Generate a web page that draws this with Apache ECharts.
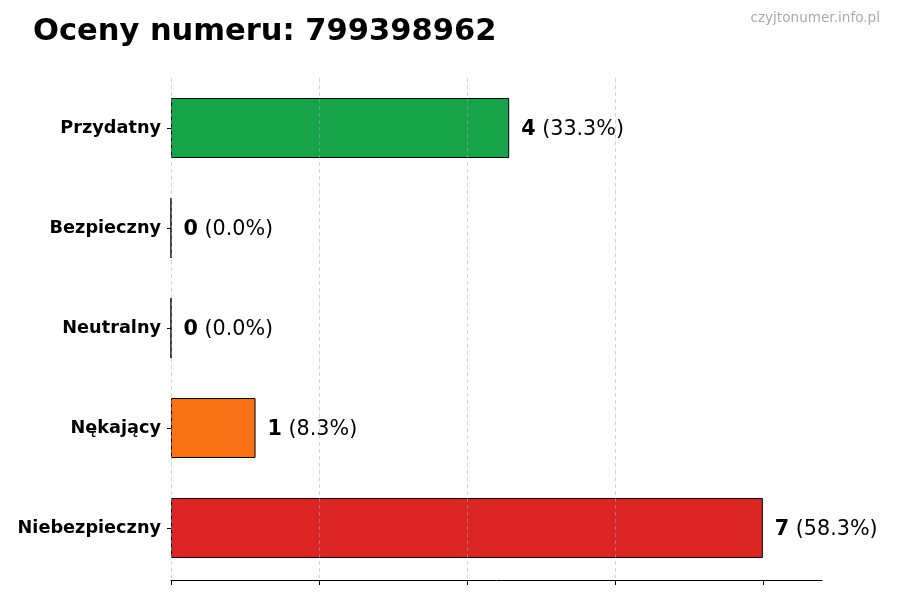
<!DOCTYPE html>
<html>
<head>
    <meta charset="UTF-8">
    <title>Oceny numeru</title>
    <script src="https://cdn.jsdelivr.net/npm/echarts@6/dist/echarts.min.js"></script>
    <style>
        html, body { margin: 0; padding: 0; background: #fff; }
        #chart { width: 900px; height: 600px; }
    </style>
</head>
<body>
<div id="chart"></div>
<script>
    // dane wykresu (od góry do dołu)
    var categories = ['Przydatny', 'Bezpieczny', 'Neutralny', 'Nękający', 'Niebezpieczny'];
    var counts = [4, 0, 0, 1, 7];
    var colors = ['#16a34a', '#16a34a', '#9ca3af', '#f97316', '#dc2626'];
    var xTicks = [0, 1.75, 3.5, 5.25, 7];
    var titleText = 'Oceny numeru: 799398962';
    var siteText = 'czyjtonumer.info.pl';

    var total = counts.reduce(function (a, b) { return a + b; }, 0);
    var font = 'DejaVu Sans';

    var chart = echarts.init(document.getElementById('chart'));
    chart.setOption({
        backgroundColor: '#fff',
        animation: false,
        title: [{
            text: titleText,
            left: 28, top: 12,
            textStyle: { fontFamily: font, fontSize: 30.5, fontWeight: 'bold', color: '#000' }
        }, {
            text: siteText,
            right: 15, top: 6,
            textStyle: { fontFamily: font, fontSize: 13.6, fontWeight: 'normal', color: '#aaa' }
        }],
        grid: { left: 171, right: 78, top: 78, bottom: 22 },
        xAxis: {
            type: 'value',
            min: 0, max: 7.7, interval: 1.75,
            offset: 2,
            z: 5,
            axisLine: { show: true, lineStyle: { color: '#000', width: 1 } },
            axisTick: { show: true, length: 5, customValues: xTicks, lineStyle: { color: '#000' } },
            axisLabel: { show: false },
            splitLine: { show: true, showMaxLine: false, lineStyle: { color: 'rgba(170,170,170,0.5)', type: [4, 3], width: 1 } }
        },
        yAxis: {
            type: 'category',
            inverse: true,
            data: categories,
            axisLine: { show: false },
            axisTick: { show: true, alignWithLabel: true, length: 4, lineStyle: { color: '#000' } },
            axisLabel: { fontFamily: font, fontSize: 17.7, fontWeight: 'bold', color: '#000', margin: 10, padding: [6, 0, 0, 0] }
        },
        series: [{
            type: 'bar',
            barWidth: 60,
            data: counts.map(function (v, i) {
                return { value: v, itemStyle: { color: colors[i] } };
            }),
            itemStyle: { borderColor: '#000', borderWidth: 1 },
            label: {
                show: true,
                position: 'right',
                distance: 12,
                offset: [0, 2],
                fontFamily: font,
                fontSize: 20.7,
                color: '#000',
                formatter: function (p) {
                    var pct = (p.value / total * 100).toFixed(1);
                    return '{b|' + p.value + '}{n| (' + pct + '%)}';
                },
                rich: {
                    b: { fontFamily: font, fontSize: 20.7, fontWeight: 'bold', color: '#000' },
                    n: { fontFamily: font, fontSize: 20.7, color: '#000' }
                }
            }
        }]
    });
</script>
</body>
</html>
